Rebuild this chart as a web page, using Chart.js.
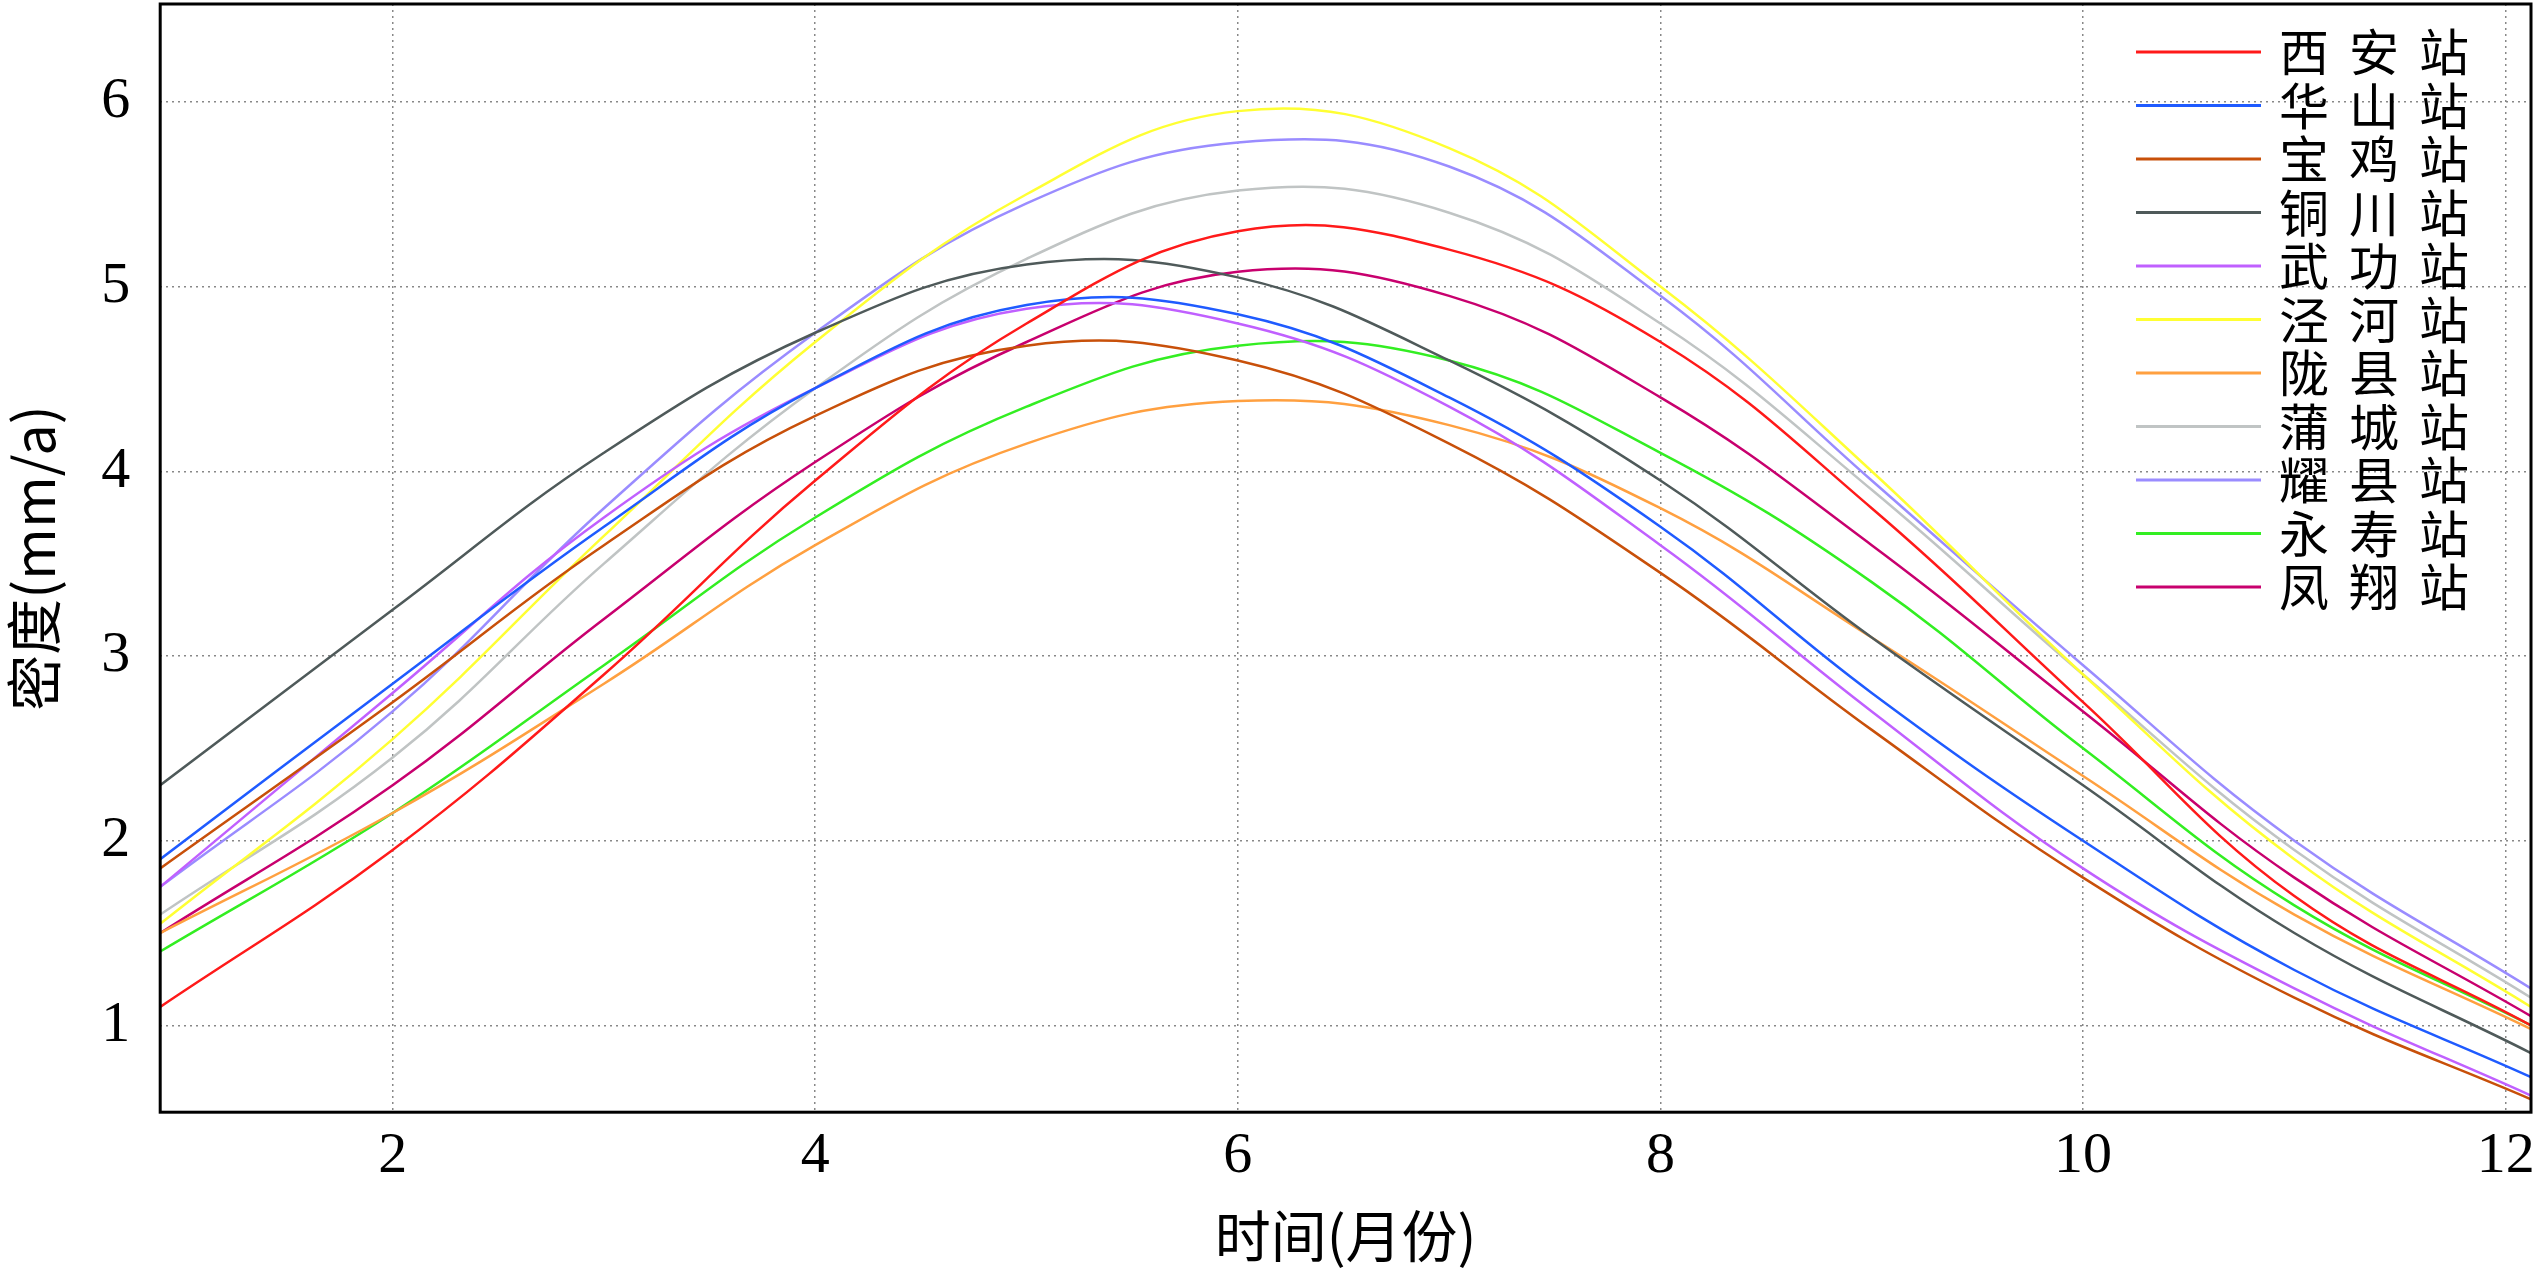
<!DOCTYPE html>
<html><head><meta charset="utf-8">
<script src="https://cdn.jsdelivr.net/npm/chart.js@4"></script>
<style>html,body{margin:0;background:#fff}canvas{display:block}</style>
</head><body>
<canvas id="c" width="2535" height="1269"></canvas>
<script>
// ===== Data =====
const months = [0.9, 2, 3, 4, 5, 6, 7, 8, 9, 10, 11, 12.12];
const stations = ["西安站","华山站","宝鸡站","铜川站","武功站","泾河站","陇县站","蒲城站","耀县站","永寿站","凤翔站"];
const colors = ["#ff1a1a","#1f5bff","#c8500a","#4f5a5a","#c060ff","#ffff33","#ffa040","#c0c4c4","#9a8cff","#33ee22","#c8006e"];
const xian    = [1.1,1.95,2.9,3.95,4.8,5.3,5.2,4.7,3.8,2.75,1.7,1.0];
const huashan = [1.9,2.85,3.7,4.45,4.9,4.85,4.4,3.7,2.8,2.0,1.3,0.72];
const baoji   = [1.85,2.75,3.6,4.3,4.68,4.6,4.15,3.45,2.6,1.8,1.15,0.6];
const tongchuan = [2.3,3.25,4.1,4.75,5.12,5.05,4.6,3.95,3.1,2.3,1.5,0.85];
const wugong  = [1.75,2.8,3.75,4.45,4.88,4.8,4.35,3.6,2.7,1.85,1.2,0.62];
const jinghe  = [1.55,2.55,3.65,4.7,5.5,5.95,5.75,5.0,4.0,2.9,1.9,1.1];
const longxian = [1.5,2.15,2.85,3.6,4.15,4.38,4.25,3.8,3.1,2.35,1.6,0.98];
const pucheng = [1.6,2.45,3.5,4.45,5.15,5.52,5.4,4.8,3.9,2.9,1.95,1.15];
const yaoxian = [1.75,2.7,3.8,4.75,5.45,5.78,5.65,4.95,3.95,2.95,2.0,1.2];
const yongshou = [1.4,2.15,2.95,3.75,4.35,4.68,4.6,4.1,3.4,2.5,1.65,1.0];
const fengxiang = [1.5,2.3,3.2,4.05,4.7,5.08,4.95,4.4,3.6,2.7,1.8,1.05];
const series = [xian,huashan,baoji,tongchuan,wugong,jinghe,longxian,pucheng,yaoxian,yongshou,fengxiang];
const xTicks = [2,4,6,8,10,12];
const yTicks = [1,2,3,4,5,6];

const serif = "'Liberation Serif', 'DejaVu Serif', serif";
const cjk = "'Noto Sans CJK SC', sans-serif";

// ===== Legend plugin =====
const legendPlugin = {
  id: "boxLegend",
  afterDraw(chart) {
    const ctx = chart.ctx;
    const a = chart.chartArea;
    ctx.save();
    ctx.font = "50px " + cjk;
    ctx.textBaseline = "middle";
    ctx.textAlign = "left";
    chart.data.datasets.forEach((ds, i) => {
      const y = a.top + 48 + i * 53.5;
      const x0 = a.right - 395;
      ctx.strokeStyle = ds.borderColor;
      ctx.lineWidth = 3;
      ctx.beginPath(); ctx.moveTo(x0, y); ctx.lineTo(x0 + 125, y); ctx.stroke();
      ctx.fillStyle = "#000";
      ds.label.split("").forEach((ch, k) => ctx.fillText(ch, x0 + 143 + k * 70, y));
    });
    // frame
    ctx.strokeStyle = "#000"; ctx.lineWidth = 3;
    ctx.strokeRect(a.left, a.top, a.right - a.left, a.bottom - a.top);
    ctx.restore();
  }
};

new Chart(document.getElementById("c"), {
  type: "line",
  data: {
    datasets: series.map((d, i) => ({
      label: stations[i],
      data: d.map((v, j) => ({ x: months[j], y: v })),
      borderColor: colors[i],
      borderWidth: 2.5,
      pointRadius: 0,
      tension: 0.4,
      fill: false
    }))
  },
  options: {
    responsive: false,
    animation: false,
    layout: { padding: { top: 4, right: 4, left: 0, bottom: 0 } },
    plugins: { legend: { display: false }, tooltip: { enabled: false } },
    scales: {
      x: {
        type: "linear", min: 0.9, max: 12.12,
        afterBuildTicks: s => { s.ticks = xTicks.map(v => ({ value: v })); },
        afterFit: s => { s.paddingLeft = 0; s.paddingRight = 0; },
        grid: { color: "#888", lineWidth: 1.5, drawTicks: false },
        border: { display: false, dash: [2, 4] },
        ticks: { color: "#000", font: { size: 58, family: serif }, padding: 10 },
        title: { display: true, text: "时间(月份)", color: "#000", font: { size: 56, family: cjk }, padding: { top: 0, bottom: 0 } }
      },
      y: {
        min: 0.53, max: 6.53,
        afterBuildTicks: s => { s.ticks = yTicks.map(v => ({ value: v })); },
        afterFit: s => { s.paddingTop = 0; s.paddingBottom = 0; },
        grid: { color: "#888", lineWidth: 1.5, drawTicks: false },
        border: { display: false, dash: [2, 4] },
        ticks: { color: "#000", font: { size: 58, family: serif }, padding: 30 },
        title: { display: true, text: "密度(mm/a)", color: "#000", font: { size: 56, family: cjk }, padding: { top: 0, bottom: 4 } }
      }
    }
  },
  plugins: [legendPlugin]
});
</script>
</body></html>
